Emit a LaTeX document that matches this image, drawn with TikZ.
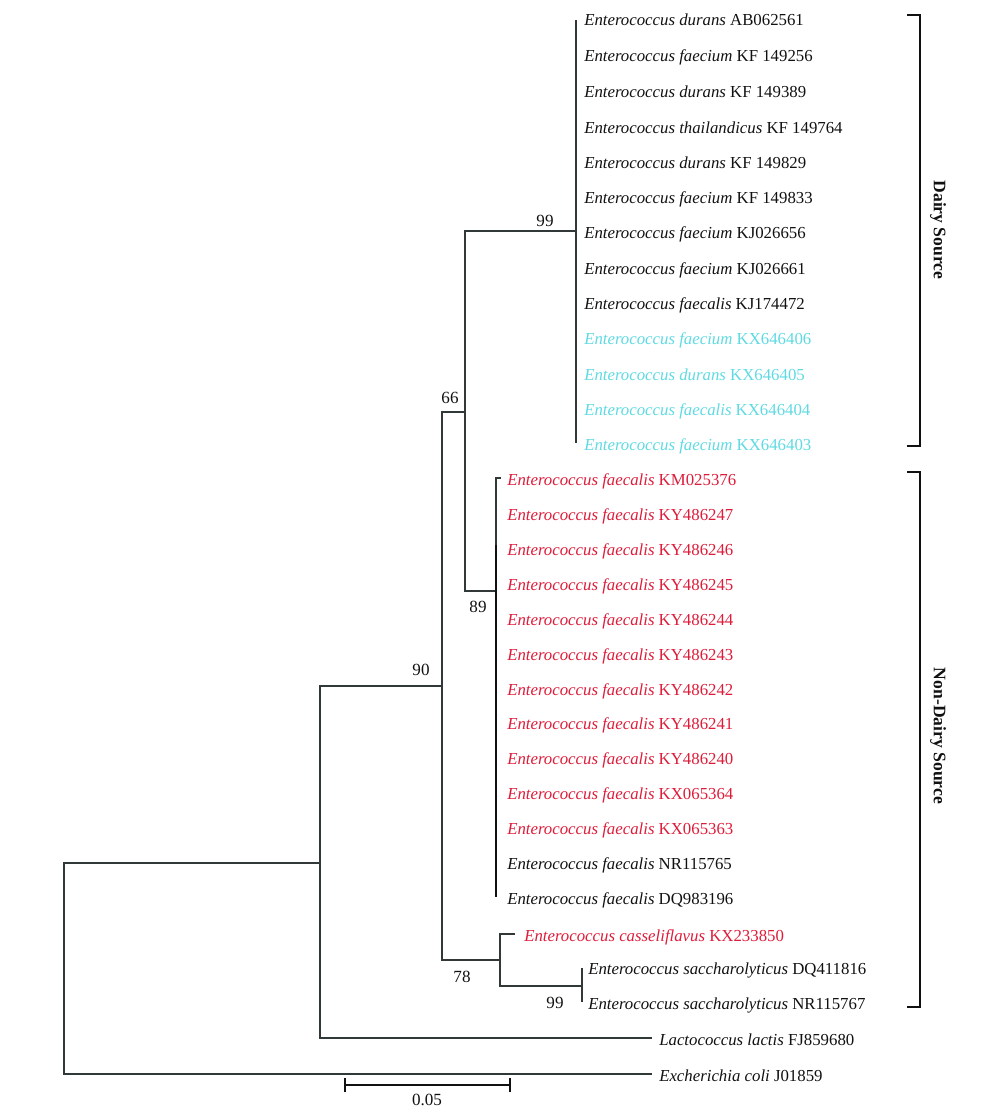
\documentclass[tikz,border=0pt]{standalone}
\usepackage{fontspec}
\setmainfont{Liberation Serif}
\definecolor{brc}{RGB}{48,56,56}
\definecolor{cy}{RGB}{95,218,226}
\definecolor{rd}{RGB}{222,28,58}
\definecolor{tx}{RGB}{17,17,17}
\begin{document}
\begin{tikzpicture}[x=0.75pt,y=-0.75pt,
  br/.style={draw=brc, line width=1.5pt},
  leaf/.style={anchor=west, inner sep=0pt, yshift=-2pt, text=tx, font=\fontsize{12.6}{14}\selectfont, text height=1.5ex, text depth=0pt},
  boot/.style={inner sep=0pt, text=tx, font=\fontsize{12.8}{14}\selectfont},
  grp/.style={inner sep=0pt, text=tx, rotate=-90, font=\bfseries\fontsize{13.2}{15}\selectfont},
  bracket/.style={draw=tx, line width=1.3pt}]
\useasboundingbox (0,0) rectangle (1000,1117);

% ---- leaves: dairy source
\node[leaf] (d1)  at (584,18)  {\textit{Enterococcus durans} AB062561};
\node[leaf] (d2)  at (584,54)  {\textit{Enterococcus faecium} KF 149256};
\node[leaf] (d3)  at (584,90)  {\textit{Enterococcus durans} KF 149389};
\node[leaf] (d4)  at (584,126) {\textit{Enterococcus thailandicus} KF 149764};
\node[leaf] (d5)  at (584,161) {\textit{Enterococcus durans} KF 149829};
\node[leaf] (d6)  at (584,196) {\textit{Enterococcus faecium} KF 149833};
\node[leaf] (d7)  at (584,231) {\textit{Enterococcus faecium} KJ026656};
\node[leaf] (d8)  at (584,267) {\textit{Enterococcus faecium} KJ026661};
\node[leaf] (d9)  at (584,302) {\textit{Enterococcus faecalis} KJ174472};
\node[leaf,text=cy] (d10) at (584,337) {\textit{Enterococcus faecium} KX646406};
\node[leaf,text=cy] (d11) at (584,373) {\textit{Enterococcus durans} KX646405};
\node[leaf,text=cy] (d12) at (584,408) {\textit{Enterococcus faecalis} KX646404};
\node[leaf,text=cy] (d13) at (584,443) {\textit{Enterococcus faecium} KX646403};

% ---- leaves: non-dairy source
\node[leaf,text=rd] (e1)  at (507,478) {\textit{Enterococcus faecalis} KM025376};
\node[leaf,text=rd] (e2)  at (507,513) {\textit{Enterococcus faecalis} KY486247};
\node[leaf,text=rd] (e3)  at (507,548) {\textit{Enterococcus faecalis} KY486246};
\node[leaf,text=rd] (e4)  at (507,583) {\textit{Enterococcus faecalis} KY486245};
\node[leaf,text=rd] (e5)  at (507,618) {\textit{Enterococcus faecalis} KY486244};
\node[leaf,text=rd] (e6)  at (507,653) {\textit{Enterococcus faecalis} KY486243};
\node[leaf,text=rd] (e7)  at (507,688) {\textit{Enterococcus faecalis} KY486242};
\node[leaf,text=rd] (e8)  at (507,722) {\textit{Enterococcus faecalis} KY486241};
\node[leaf,text=rd] (e9)  at (507,757) {\textit{Enterococcus faecalis} KY486240};
\node[leaf,text=rd] (e10) at (507,792) {\textit{Enterococcus faecalis} KX065364};
\node[leaf,text=rd] (e11) at (507,827) {\textit{Enterococcus faecalis} KX065363};
\node[leaf] (e12) at (507,862) {\textit{Enterococcus faecalis} NR115765};
\node[leaf] (e13) at (507,897) {\textit{Enterococcus faecalis} DQ983196};

\node[leaf,text=rd] (cas) at (524,934) {\textit{Enterococcus casseliflavus} KX233850};
\node[leaf] (s1) at (588,967)  {\textit{Enterococcus saccharolyticus} DQ411816};
\node[leaf] (s2) at (588,1002) {\textit{Enterococcus saccharolyticus} NR115767};
\node[leaf] (lac) at (659,1038) {\textit{Lactococcus lactis} FJ859680};
\node[leaf] (eco) at (659,1074) {\textit{Excherichia coli} J01859};

% ---- internal nodes
\coordinate (root) at (64,969);
\coordinate (nA) at (320,863);
\coordinate (nB) at (442,686);
\coordinate (nC) at (465,412);
\coordinate (nD) at (576,231);
\coordinate (nE) at (496,591);
\coordinate (nF) at (500,960);
\coordinate (nG) at (582,986);
\coordinate (ecoEnd) at (652,1074);
\coordinate (lacEnd) at (652,1038);
\coordinate (casEnd) at (515,934);
\coordinate (dTop) at (576,20);
\coordinate (dBot) at (576,443);
\coordinate (eTop) at (496,478);
\coordinate (eTick) at (501,478);
\coordinate (eMid) at (496,545);
\coordinate (eBot) at (496,897);
\coordinate (gTop) at (582,968);
\coordinate (gBot) at (582,1002);

% ---- branches
\draw[br] (root) |- (nA);
\draw[br] (root) |- (ecoEnd);
\draw[br] (nA) |- (nB);
\draw[br] (nA) |- (lacEnd);
\draw[br] (nB) |- (nC);
\draw[br] (nB) |- (nF);
\draw[br] (nC) |- (nD);
\draw[br] (nC) |- (nE);
\draw[br] (nF) |- (casEnd);
\draw[br] (nF) |- (nG);
\draw[br] (dTop) -- (dBot);
\draw[br] (eTick) -- (eTop) -- (eBot);
\draw[draw=tx, line width=2.2pt] (eMid) -- (eBot);
\draw[br] (gTop) -- (gBot);

% ---- bootstrap values
\node[boot] (b99a) at (545,221) {99};
\node[boot] (b66)  at (450,398) {66};
\node[boot] (b89)  at (478,607) {89};
\node[boot] (b90)  at (421,670) {90};
\node[boot] (b78)  at (462,977) {78};
\node[boot] (b99b) at (555,1003) {99};

% ---- scale bar
\coordinate (sbL) at (345,1085);
\coordinate (sbR) at (510,1085);
\draw[br, draw=tx] (sbL) -- (sbR);
\draw[br, draw=tx] ([yshift=-5.5]sbL) -- ([yshift=5.5]sbL);
\draw[br, draw=tx] ([yshift=-5.5]sbR) -- ([yshift=5.5]sbR);
\node[boot] (sbT) at (427,1100) {0.05};

% ---- group brackets
\draw[bracket] (907,15) -- (920,15) -- (920,446) -- (907,446);
\node[grp] (gDairy) at (938,230) {Dairy Source};
\draw[bracket] (907,472) -- (920,472) -- (920,1007) -- (907,1007);
\node[grp] (gNon) at (938,736) {Non-Dairy Source};
\end{tikzpicture}
\end{document}
